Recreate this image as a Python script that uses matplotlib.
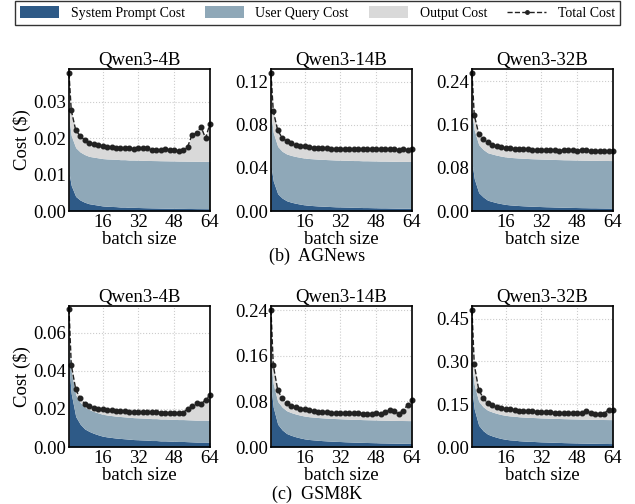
import matplotlib
matplotlib.use("Agg")
import matplotlib.pyplot as plt
from matplotlib.patches import Patch
from matplotlib.lines import Line2D
import numpy as np

plt.rcParams['font.family'] = ['Liberation Serif', 'DejaVu Serif']
plt.rcParams['mathtext.fontset'] = 'stix'

batch_sizes = [1, 2, 4, 6, 8, 10, 12, 14, 16, 18, 20, 22, 24, 26, 28, 30, 32,
               34, 36, 38, 40, 42, 44, 46, 48, 50, 52, 54, 56, 58, 60, 62, 64]

models = ["Qwen3-4B", "Qwen3-14B", "Qwen3-32B"]
captions = ["(b)  AGNews", "(c)  GSM8K"]

# ---------------- AGNews ----------------
ag4_sys = [0.0105, 0.0070, 0.0040, 0.0030, 0.0024, 0.0020, 0.0018, 0.0016, 0.0014, 0.0013, 0.00125,
           0.0012, 0.0011, 0.0011, 0.0010, 0.0010, 0.00096, 0.00092, 0.00089, 0.00086, 0.00084,
           0.00081, 0.00079, 0.00077, 0.00075, 0.00072, 0.00071, 0.00069, 0.00068, 0.00066,
           0.00065, 0.00064, 0.00063]
ag4_user = [0.0150, 0.0137, 0.0134, 0.0132, 0.0131, 0.0130, 0.0130, 0.0130, 0.0130, 0.0130, 0.0130,
            0.0130, 0.0130, 0.0130, 0.0130, 0.0130, 0.0130, 0.0130, 0.0130, 0.0130, 0.0130,
            0.0130, 0.0130, 0.0130, 0.0130, 0.0130, 0.0130, 0.0130, 0.0130, 0.0130,
            0.0130, 0.0130, 0.0130]
ag4_total = [0.0378, 0.0277, 0.0222, 0.0206, 0.0195, 0.0188, 0.0183, 0.0180, 0.0178, 0.0176, 0.0175,
             0.0173, 0.0174, 0.0174, 0.0172, 0.0171, 0.0172, 0.0172, 0.0172, 0.0167, 0.0167,
             0.0167, 0.0169, 0.0168, 0.0167, 0.0164, 0.0168, 0.0176, 0.0210, 0.0213,
             0.0231, 0.0200, 0.0240]

ag14_sys = [0.042, 0.028, 0.016, 0.012, 0.0095, 0.0082, 0.0072, 0.0064, 0.0057, 0.0053, 0.0050,
            0.0047, 0.0045, 0.0043, 0.0041, 0.0039, 0.0038, 0.0037, 0.0036, 0.0034, 0.0034,
            0.0032, 0.0032, 0.0031, 0.0030, 0.0029, 0.0029, 0.0028, 0.0027, 0.0026,
            0.0026, 0.0026, 0.0025]
ag14_user = [0.048, 0.045, 0.044, 0.0435, 0.0435, 0.0435, 0.0435, 0.0435, 0.0435, 0.0435, 0.0435,
             0.0435, 0.0435, 0.0435, 0.0435, 0.0435, 0.0435, 0.0435, 0.0435, 0.0435, 0.0435,
             0.0435, 0.0435, 0.0435, 0.0435, 0.0435, 0.0435, 0.0435, 0.0435, 0.0435,
             0.0435, 0.0435, 0.0435]
ag14_total = [0.128, 0.093, 0.075, 0.068, 0.065, 0.063, 0.0615, 0.0605, 0.0600, 0.0595, 0.0590,
              0.0588, 0.0585, 0.0583, 0.0580, 0.0578, 0.0578, 0.0577, 0.0576, 0.0575, 0.0576,
              0.0574, 0.0575, 0.0573, 0.0574, 0.0573, 0.0574, 0.0572, 0.0573, 0.0571,
              0.0572, 0.0563, 0.0572]

ag32_sys = [0.090, 0.060, 0.034, 0.026, 0.020, 0.0176, 0.0154, 0.0137, 0.0122, 0.0113, 0.0107,
            0.0101, 0.0096, 0.0092, 0.0088, 0.0085, 0.0082, 0.0079, 0.0077, 0.0074, 0.0072,
            0.0069, 0.0068, 0.0066, 0.0064, 0.0062, 0.0061, 0.0059, 0.0059, 0.0057,
            0.0056, 0.0055, 0.0054]
ag32_user = [0.092, 0.090, 0.089, 0.088, 0.088, 0.088, 0.088, 0.088, 0.088, 0.088, 0.088,
             0.088, 0.088, 0.088, 0.088, 0.088, 0.088, 0.088, 0.088, 0.088, 0.088,
             0.088, 0.088, 0.088, 0.088, 0.088, 0.088, 0.088, 0.088, 0.088,
             0.088, 0.088, 0.088]
ag32_total = [0.255, 0.178, 0.143, 0.133, 0.127, 0.123, 0.120, 0.118, 0.117, 0.116, 0.1155,
              0.115, 0.1145, 0.114, 0.1135, 0.113, 0.113, 0.1125, 0.113, 0.1125, 0.112,
              0.1125, 0.113, 0.1125, 0.112, 0.113, 0.1125, 0.112, 0.1115, 0.112,
              0.1115, 0.111, 0.112]

# ---------------- GSM8K ----------------
gs4_sys = [0.042, 0.028, 0.016, 0.012, 0.0095, 0.0082, 0.0072, 0.0064, 0.0057, 0.0053, 0.0050,
           0.0047, 0.0045, 0.0043, 0.0041, 0.0039, 0.0038, 0.0037, 0.0036, 0.0034, 0.0034,
           0.0032, 0.0032, 0.0031, 0.0030, 0.0029, 0.0029, 0.0028, 0.0027, 0.0026,
           0.0026, 0.0026, 0.0025]
gs4_user = [0.0120, 0.0116, 0.0115, 0.0115, 0.0115, 0.0115, 0.0115, 0.0115, 0.0115, 0.0115, 0.0115,
            0.0115, 0.0115, 0.0115, 0.0115, 0.0115, 0.0115, 0.0115, 0.0115, 0.0115, 0.0115,
            0.0115, 0.0115, 0.0115, 0.0115, 0.0115, 0.0115, 0.0115, 0.0115, 0.0115,
            0.0115, 0.0115, 0.0115]
gs4_total = [0.0726, 0.0432, 0.0303, 0.0255, 0.0228, 0.0214, 0.0206, 0.0201, 0.0197, 0.0194, 0.0192,
             0.0190, 0.0189, 0.0188, 0.0186, 0.0185, 0.0184, 0.0184, 0.0183, 0.0182, 0.0182,
             0.0181, 0.0180, 0.0179, 0.0178, 0.0177, 0.0181, 0.0199, 0.0213, 0.0232,
             0.0225, 0.0248, 0.0272]

gs14_sys = [0.105, 0.070, 0.040, 0.030, 0.0237, 0.0205, 0.018, 0.016, 0.0143, 0.0132, 0.0125,
            0.0118, 0.0112, 0.0107, 0.0103, 0.0099, 0.0096, 0.0092, 0.0089, 0.0086, 0.0084,
            0.0081, 0.0079, 0.0077, 0.0075, 0.0072, 0.0071, 0.0069, 0.0068, 0.0066,
            0.0065, 0.0064, 0.0063]
gs14_user = [0.042, 0.041, 0.040, 0.040, 0.040, 0.040, 0.040, 0.040, 0.040, 0.040, 0.040,
             0.040, 0.040, 0.040, 0.040, 0.040, 0.040, 0.040, 0.040, 0.040, 0.040,
             0.040, 0.040, 0.040, 0.040, 0.040, 0.040, 0.040, 0.040, 0.040,
             0.040, 0.040, 0.040]
gs14_total = [0.241, 0.144, 0.100, 0.0853, 0.0765, 0.0724, 0.0694, 0.0670, 0.0659, 0.0648, 0.0635,
              0.0620, 0.0615, 0.0610, 0.0605, 0.0600, 0.0600, 0.0595, 0.0593, 0.0590, 0.0590,
              0.0588, 0.0583, 0.0585, 0.0595, 0.0585, 0.0615, 0.0645, 0.0625, 0.0585,
              0.0635, 0.0740, 0.0820]

gs32_sys = [0.200, 0.133, 0.076, 0.057, 0.045, 0.039, 0.034, 0.030, 0.027, 0.025, 0.024,
            0.022, 0.021, 0.020, 0.0196, 0.0188, 0.018, 0.0176, 0.017, 0.0164, 0.016,
            0.0154, 0.015, 0.0146, 0.0142, 0.0138, 0.0136, 0.0132, 0.013, 0.0126,
            0.0124, 0.0122, 0.012]
gs32_user = [0.088, 0.086, 0.084, 0.084, 0.084, 0.084, 0.084, 0.084, 0.084, 0.084, 0.084,
             0.084, 0.084, 0.084, 0.084, 0.084, 0.084, 0.084, 0.084, 0.084, 0.084,
             0.084, 0.084, 0.084, 0.084, 0.084, 0.084, 0.084, 0.084, 0.084,
             0.084, 0.084, 0.084]
gs32_total = [0.479, 0.290, 0.201, 0.172, 0.154, 0.146, 0.140, 0.137, 0.134, 0.132, 0.130,
              0.128, 0.127, 0.126, 0.125, 0.124, 0.1235, 0.123, 0.122, 0.121, 0.120,
              0.119, 0.119, 0.118, 0.118, 0.118, 0.125, 0.120, 0.117, 0.116,
              0.117, 0.131, 0.130]

panels = [
    [(ag4_sys, ag4_user, ag4_total), (ag14_sys, ag14_user, ag14_total), (ag32_sys, ag32_user, ag32_total)],
    [(gs4_sys, gs4_user, gs4_total), (gs14_sys, gs14_user, gs14_total), (gs32_sys, gs32_user, gs32_total)],
]
yticks = [
    [[0.00, 0.01, 0.02, 0.03], [0.00, 0.04, 0.08, 0.12], [0.00, 0.08, 0.16, 0.24]],
    [[0.00, 0.02, 0.04, 0.06], [0.00, 0.08, 0.16, 0.24], [0.00, 0.15, 0.30, 0.45]],
]
ytops = [[0.039, 0.132, 0.263], [0.074, 0.2476, 0.4946]]
xticks = [16, 32, 48, 64]

c_sys = '#2E5A87'
c_user = '#8FA8B8'
c_out = '#D9D9D9'
c_tot = '#222222'

fig = plt.figure(figsize=(6.35, 5.04), dpi=100)
W, H = 635, 504
lefts = [69, 271, 472]
aw = 141
rows = [(69, 211), (306, 447)]

FS = 13.5
for r in range(2):
    top, bot = rows[r]
    for c in range(3):
        ax = fig.add_axes([lefts[c] / W, 1 - bot / H, aw / W, (bot - top) / H])
        s, u, t = panels[r][c]
        x = np.array(batch_sizes)
        s = np.array(s); u = np.array(u); t = np.array(t)
        ax.fill_between(x, 0, s, color=c_sys, lw=0, zorder=2)
        ax.fill_between(x, s, s + u, color=c_user, lw=0, zorder=2)
        ax.fill_between(x, s + u, t, color=c_out, lw=0, zorder=2)
        ax.plot(x, t, ls='--', color=c_tot, lw=1.0, marker='o', ms=3.3, zorder=3, clip_on=False)
        ax.set_xlim(1, 64)
        ax.set_ylim(0, ytops[r][c])
        ax.set_xticks(xticks)
        ax.set_yticks(yticks[r][c])
        ax.set_yticklabels([f"{v:.2f}" for v in yticks[r][c]])
        ax.tick_params(labelsize=FS, length=0, pad=2)
        ax.grid(True, ls=':', color='#cccccc', lw=0.8, zorder=0)
        ax.set_axisbelow(True)
        for sp in ax.spines.values():
            sp.set_color('black')
            sp.set_linewidth(1.2)
            sp.set_zorder(4)
        ax.set_title(models[c], fontsize=FS, pad=2)
        ax.set_xlabel("batch size", fontsize=FS, labelpad=0)
        if c == 0:
            ax.set_ylabel("Cost (\\$)", fontsize=FS, labelpad=2)

fig.text(0.5, 1 - 256 / H, captions[0], ha='center', va='center', fontsize=13)
fig.text(0.5, 1 - 494 / H, captions[1], ha='center', va='center', fontsize=13)

handles = [Patch(facecolor=c_sys, edgecolor='none'),
           Patch(facecolor=c_user, edgecolor='none'),
           Patch(facecolor=c_out, edgecolor='none'),
           Line2D([0], [0], ls='--', color=c_tot, lw=1.0, marker='o', ms=2.5)]
labels = ["System Prompt Cost", "User Query Cost", "Output Cost", "Total Cost"]
leg = fig.legend(handles, labels, loc='center', bbox_to_anchor=(0.5, 1 - 13 / H), ncol=4,
                 fontsize=10, frameon=True, fancybox=False, edgecolor='black',
                 handlelength=2.8, handletextpad=0.85, columnspacing=1.45, borderpad=0.35,
                 handleheight=0.9)
leg.get_frame().set_linewidth(1.0)

fig.savefig("out.png", dpi=100)
